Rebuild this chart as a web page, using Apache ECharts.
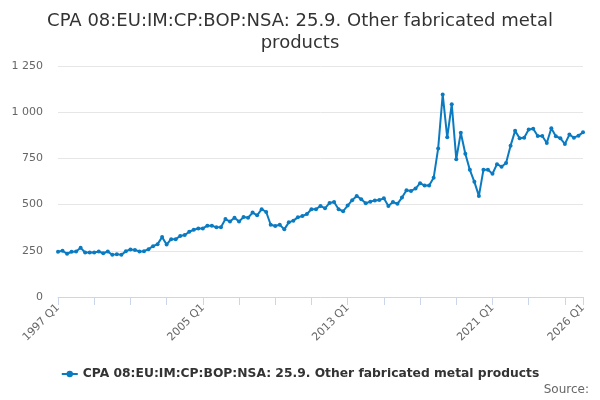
<!DOCTYPE html>
<html>
<head>
<meta charset="utf-8">
<script src="https://cdn.jsdelivr.net/npm/echarts@6/dist/echarts.min.js"></script>
<style>
  html, body { margin: 0; padding: 0; background: #fff; }
  #chart { width: 600px; height: 400px; }
</style>
</head>
<body>
<div id="chart"></div>
<script>
// quarters 1997 Q1 .. 2026 Q1
var firstYear = 1997;
var lastYear = 2026;
var quarters = [];
for (var y = firstYear; y <= lastYear; y++) {
  for (var q = 1; q <= 4; q++) {
    if (y === lastYear && q > 1) break;
    quarters.push(y + ' Q' + q);
  }
}

var seriesName = 'CPA 08:EU:IM:CP:BOP:NSA: 25.9. Other fabricated metal products';

var values = [
  245, 250, 234, 245, 246, 266, 241, 241, 241, 246, 237, 246,
  228, 232, 228, 248, 257, 255, 246, 248, 259, 275, 286, 324,
  284, 313, 313, 330, 335, 353, 364, 371, 371, 386, 386, 377,
  377, 422, 408, 429, 408, 433, 429, 457, 442, 475, 460, 391,
  384, 391, 366, 404, 413, 431, 438, 449, 475, 475, 493, 480,
  509, 514, 475, 464, 495, 524, 547, 529, 507, 516, 522, 525,
  534, 493, 514, 504, 538, 578, 574, 587, 616, 603, 603, 645,
  804, 1096, 864, 1043, 746, 889, 775, 688, 623, 547, 688, 688,
  667, 719, 705, 725, 819, 899, 859, 862, 906, 911, 871, 871,
  833, 913, 870, 859, 828, 879, 862, 873, 891
];

var yTicks = [0, 250, 500, 750, 1000, 1250];

function fmtThousands(v) {
  return String(v).replace(/\B(?=(\d{3})+(?!\d))/g, ' ');
}

var lastIdx = quarters.length - 1;
var chart = echarts.init(document.getElementById('chart'));

chart.setOption({
  animation: false,
  textStyle: { fontFamily: 'DejaVu Sans, sans-serif' },
  title: {
    text: 'CPA 08:EU:IM:CP:BOP:NSA: 25.9. Other fabricated metal\nproducts',
    left: 'center',
    top: 5,
    textStyle: { fontSize: 18, fontWeight: 'normal', color: '#333', lineHeight: 22 }
  },
  grid: { left: 58, right: 17, top: 66, bottom: 103 },
  xAxis: {
    type: 'category',
    data: quarters,
    boundaryGap: false,
    axisLine: { lineStyle: { color: '#ccd6eb' } },
    axisTick: {
      length: 8,
      lineStyle: { color: '#ccd6eb' },
      interval: function (i) { return i % 8 === 0 || i === lastIdx; }
    },
    axisLabel: {
      rotate: 45,
      color: '#666',
      fontSize: 11,
      margin: 9,
      interval: function (i) { return i % 32 === 0 || i === lastIdx; }
    },
    splitLine: { show: false }
  },
  yAxis: {
    type: 'value',
    min: yTicks[0],
    max: yTicks[yTicks.length - 1],
    interval: 250,
    axisLine: { show: false },
    axisTick: { show: false },
    axisLabel: {
      color: '#666',
      fontSize: 11,
      margin: 15,
      formatter: function (v) { return fmtThousands(v); }
    },
    splitLine: { lineStyle: { color: '#e6e6e6' } }
  },
  legend: {
    bottom: 15,
    left: 'center',
    itemWidth: 16,
    itemHeight: 8,
    itemGap: 5,
    textStyle: { fontSize: 12.3, fontWeight: 'bold', color: '#333' },
    data: [seriesName]
  },
  graphic: [{
    type: 'text',
    right: 11,
    bottom: 4,
    style: { text: 'Source:', fill: '#666', fontSize: 12, fontFamily: 'DejaVu Sans, sans-serif' }
  }],
  series: [{
    name: seriesName,
    type: 'line',
    data: values,
    symbol: 'circle',
    symbolSize: 4,
    showAllSymbol: true,
    itemStyle: { color: '#0b7bc1' },
    lineStyle: { width: 2, color: '#0b7bc1' }
  }]
});
</script>
</body>
</html>
